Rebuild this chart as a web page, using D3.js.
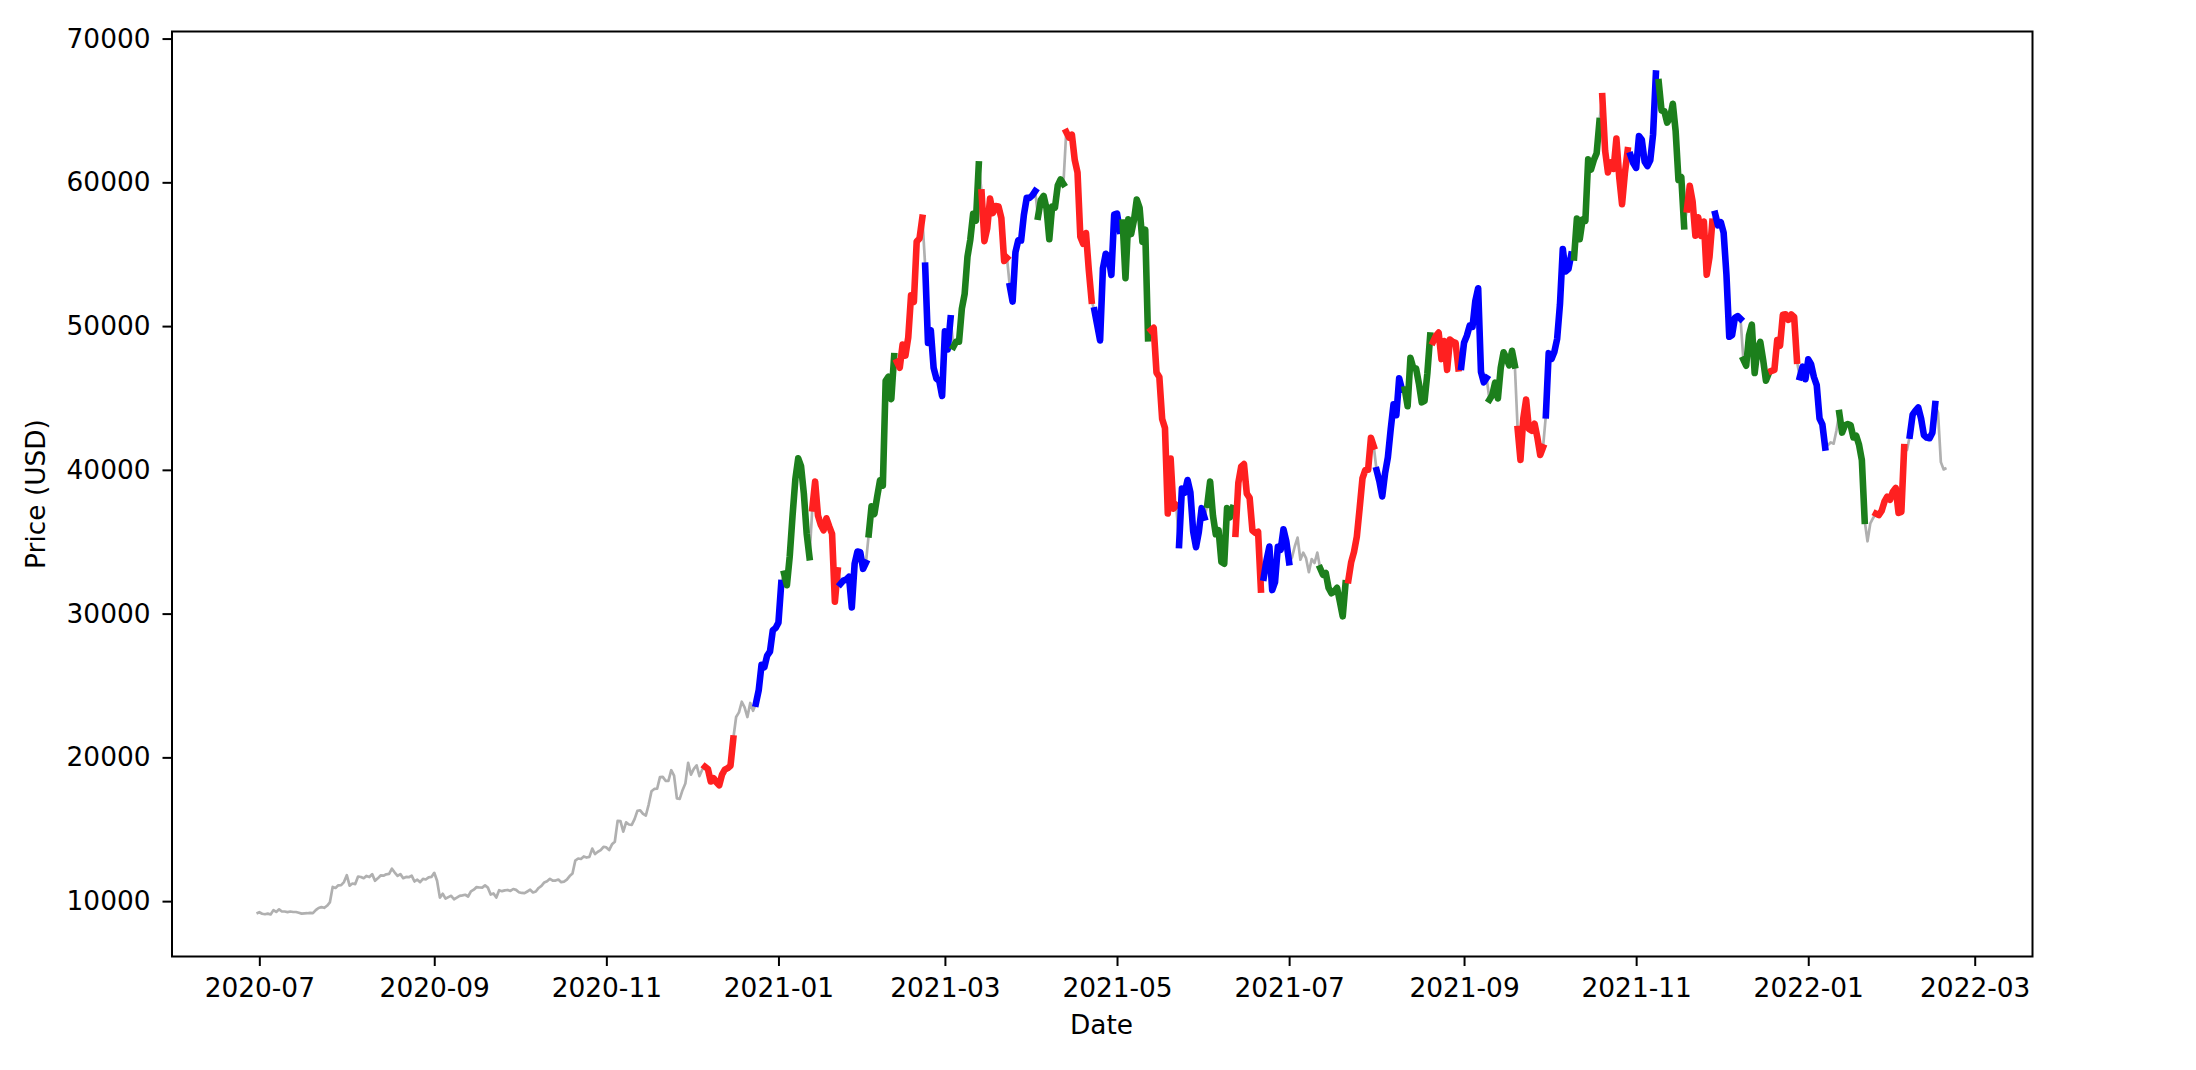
<!DOCTYPE html>
<html>
<head>
<meta charset="utf-8">
<script src="https://cdn.jsdelivr.net/npm/d3@7"></script>
<style>
  body { margin: 0; background: #ffffff; }
  svg { display: block; }
  text { font-family: "DejaVu Sans", sans-serif; }
</style>
</head>
<body>
<svg id="chart" width="2196" height="1070"></svg>
<script>
// ---- Daily close prices (USD) ----
const jun2020 = [9137];
const jul2020 = [9228, 9123, 9087, 9133, 9073, 9375, 9252, 9428, 9277, 9278, 9240, 9277, 9243, 9243, 9193, 9132, 9151, 9159, 9185, 9165, 9374, 9525, 9581, 9536, 9677, 9905, 10991, 10913, 11100, 11112, 11323];
const aug2020 = [11802, 11072, 11226, 11185, 11711, 11680, 11592, 11754, 11676, 11878, 11411, 11585, 11785, 11769, 11865, 11893, 12254, 11991, 11759, 11878, 11593, 11681, 11664, 11775, 11367, 11489, 11323, 11543, 11507, 11656, 11681];
const sep2020 = [11970, 11414, 10245, 10511, 10169, 10280, 10370, 10131, 10242, 10364, 10400, 10443, 10323, 10680, 10797, 10974, 10948, 10944, 11094, 10939, 10462, 10538, 10247, 10760, 10693, 10750, 10776, 10709, 10844, 10785];
const oct2020 = [10620, 10570, 10551, 10669, 10793, 10604, 10668, 10916, 11065, 11296, 11385, 11555, 11425, 11430, 11505, 11320, 11360, 11496, 11743, 11916, 12823, 12965, 12932, 13109, 13032, 13075, 13654, 13272, 13437, 13546, 13781];
const nov2020 = [13737, 13550, 13950, 14133, 15579, 15565, 14833, 15479, 15332, 15299, 15701, 16276, 16318, 16068, 15956, 16716, 17645, 17804, 17817, 18621, 18642, 18370, 18365, 19107, 18732, 17150, 17109, 17718, 18178, 19626];
const dec2020 = [18803, 19201, 19446, 18699, 19154, 19346, 19191, 18321, 18553, 18264, 18058, 18803, 19142, 19246, 19417, 21310, 22806, 23132, 23869, 23477, 22803, 23783, 23241, 23735, 24665, 26437, 26272, 27084, 27363, 28841, 29002];
const jan2021 = [29374, 32127, 32782, 31972, 33992, 36825, 39371, 40797, 40254, 38357, 35567, 33923, 37316, 39188, 36825, 36179, 35792, 36631, 36070, 35548, 30826, 33006, 32067, 32290, 32366, 32569, 30432, 33467, 34316, 34270, 33114];
const feb2021 = [33537, 35510, 37472, 36926, 38144, 39266, 38903, 46196, 46481, 44919, 47909, 47504, 47105, 48717, 47945, 49199, 52149, 51679, 55888, 56099, 57539, 54207, 48824, 49705, 47093, 46339, 46188, 45137];
const mar2021 = [49631, 48378, 50538, 48561, 48927, 48912, 51206, 52246, 54824, 56008, 57805, 57332, 61243, 59302, 55907, 56804, 58870, 57858, 58346, 58313, 57523, 54529, 54738, 52774, 51704, 55137, 55974, 55950, 57750, 58918, 58918];
const apr2021 = [59095, 59384, 57604, 58759, 59057, 58192, 56048, 58323, 58246, 59793, 60204, 59893, 63503, 63110, 63315, 61572, 60684, 56216, 55724, 56473, 53906, 51762, 51093, 50050, 49004, 54022, 55033, 54824, 53555, 57750];
const may2021 = [57828, 56632, 57200, 53333, 57424, 56397, 57357, 58804, 58232, 55860, 56705, 49150, 49716, 49880, 46761, 46457, 43538, 42909, 36964, 40784, 37304, 37536, 34771, 38705, 38403, 39295, 38436, 35698, 34617, 35678, 37333];
const jun2021 = [36685, 37575, 39188, 36825, 35520, 35797, 33590, 33472, 37345, 36702, 37334, 35553, 39097, 40218, 40406, 38347, 38053, 35787, 35616, 35698, 31676, 32505, 33723, 34663, 31637, 32186, 34650, 34434, 35867, 35041];
const jul2021 = [33572, 33897, 34668, 35287, 33746, 34235, 33855, 32877, 33798, 33520, 34240, 33155, 32702, 32822, 31780, 31421, 31534, 31796, 30817, 29807, 32110, 32314, 33582, 34292, 35350, 37337, 39407, 39995, 40008, 42236, 41626];
const aug2021 = [39974, 39201, 38152, 39747, 40869, 42816, 44555, 43798, 46365, 45585, 45593, 44428, 47793, 47096, 47047, 46004, 44695, 44801, 46717, 49339, 48905, 49321, 49546, 47706, 48960, 46942, 49058, 48902, 48830, 47054, 47166];
const sep2021 = [48848, 49327, 50026, 49944, 51753, 52633, 46811, 46091, 46392, 44883, 45201, 46063, 44963, 47092, 48176, 47783, 47268, 48278, 47261, 42843, 40694, 43574, 44895, 42840, 42716, 43208, 42236, 41035, 41564, 43791];
const oct2021 = [48116, 47712, 48200, 49113, 51514, 55362, 53805, 53967, 54968, 54772, 57485, 56041, 57401, 57321, 61594, 60888, 61553, 62026, 64262, 65993, 62210, 60693, 61393, 60931, 63040, 60364, 58482, 60622, 62228, 61888, 61319];
const nov2021 = [61004, 63227, 62970, 61453, 61126, 61528, 63327, 67567, 66971, 64996, 64950, 64155, 64470, 65466, 63557, 60162, 60368, 56943, 58120, 59760, 58681, 56292, 57570, 56280, 57274, 53570, 54815, 57248, 57807, 57006];
const dec2021 = [57229, 56509, 53598, 49254, 49369, 50582, 50700, 50505, 47672, 47244, 49363, 50098, 46737, 48379, 48896, 47665, 46203, 46708, 46881, 46951, 49035, 48633, 50784, 50822, 50429, 50809, 50640, 47588, 46444, 47178, 46306];
const jan2022 = [47686, 47346, 46459, 45898, 43569, 43160, 41558, 41734, 41911, 41821, 42736, 43949, 42592, 43100, 43177, 43114, 42250, 42375, 41745, 40681, 36458, 35031, 36276, 36654, 36954, 36853, 37138, 37784, 38138, 37917, 38483];
const feb2022 = [38744, 37003, 37074, 41572, 41383, 42380, 43840, 44118, 44339, 43565, 42407, 42244, 42197, 42586, 44575, 43961, 40538, 40030, 40122];

const blockStarts = ["2020-06-30", "2020-07-01", "2020-08-01", "2020-09-01", "2020-10-01", "2020-11-01", "2020-12-01",
  "2021-01-01", "2021-02-01", "2021-03-01", "2021-04-01", "2021-05-01", "2021-06-01", "2021-07-01", "2021-08-01",
  "2021-09-01", "2021-10-01", "2021-11-01", "2021-12-01", "2022-01-01", "2022-02-01"];
const blockValues = [jun2020, jul2020, aug2020, sep2020, oct2020, nov2020, dec2020, jan2021, feb2021, mar2021, apr2021,
  may2021, jun2021, jul2021, aug2021, sep2021, oct2021, nov2021, dec2021, jan2022, feb2022];

// ---- Highlighted windows (start, end, colour) ----
const segStart = ["2020-12-06", "2020-12-24", "2021-01-03", "2021-01-13", "2021-01-23", "2021-02-02", "2021-02-12", "2021-02-22",
  "2021-03-04", "2021-03-14", "2021-03-24", "2021-04-03", "2021-04-13", "2021-04-23", "2021-05-03", "2021-05-13",
  "2021-05-23", "2021-06-02", "2021-06-12", "2021-06-22", "2021-07-12", "2021-07-22", "2021-08-01", "2021-08-11",
  "2021-08-21", "2021-08-31", "2021-09-10", "2021-09-20", "2021-09-30", "2021-10-10", "2021-10-20", "2021-10-30",
  "2021-11-09", "2021-11-19", "2021-11-29", "2021-12-09", "2021-12-19", "2021-12-29", "2022-01-12", "2022-01-25", "2022-02-06"];
const segEnd = ["2020-12-16", "2021-01-02", "2021-01-12", "2021-01-22", "2021-02-01", "2021-02-11", "2021-02-21", "2021-03-03",
  "2021-03-13", "2021-03-23", "2021-04-02", "2021-04-12", "2021-04-22", "2021-05-02", "2021-05-12", "2021-05-22",
  "2021-06-01", "2021-06-11", "2021-06-21", "2021-07-01", "2021-07-21", "2021-07-31", "2021-08-10", "2021-08-20",
  "2021-08-30", "2021-09-09", "2021-09-19", "2021-09-29", "2021-10-09", "2021-10-19", "2021-10-29", "2021-11-08",
  "2021-11-18", "2021-11-28", "2021-12-08", "2021-12-18", "2021-12-28", "2022-01-07", "2022-01-21", "2022-02-04", "2022-02-15"];
const segColor = ["red", "blue", "green", "red", "blue", "green", "red", "blue",
  "green", "red", "blue", "green", "red", "blue", "green", "red",
  "blue", "green", "red", "blue", "green", "red", "blue", "green",
  "red", "blue", "green", "red", "blue", "green", "red", "blue",
  "green", "red", "blue", "green", "red", "blue", "green", "red", "blue"];

const xTickLabels = ["2020-07", "2020-09", "2020-11", "2021-01", "2021-03", "2021-05", "2021-07", "2021-09", "2021-11", "2022-01", "2022-03"];
const yTickValues = [10000, 20000, 30000, 40000, 50000, 60000, 70000];

// ---- Build series ----
const parseDay = d3.utcParse("%Y-%m-%d");
const parseMonth = d3.utcParse("%Y-%m");
const series = [];
blockStarts.forEach((s, bi) => {
  const t0 = parseDay(s);
  blockValues[bi].forEach((v, i) => series.push({ date: d3.utcDay.offset(t0, i), price: v }));
});

const palette = { red: "#ff2020", green: "#1c7f1c", blue: "#0000ff" };

// ---- Layout ----
const L = 172, R = 2031, T = 31.5, B = 956.5;
const svg = d3.select("#chart");

const tExt = d3.extent(series, d => d.date);
const span = tExt[1] - tExt[0];
const x = d3.scaleUtc()
  .domain([new Date(+tExt[0] - 0.05 * span), new Date(+tExt[1] + 0.05 * span)])
  .range([L, R]);

const pExt = d3.extent(series, d => d.price);
const pr = pExt[1] - pExt[0];
const y = d3.scaleLinear()
  .domain([pExt[0] - 0.05 * pr, pExt[1] + 0.05 * pr])
  .range([B, T]);

const line = d3.line().x(d => x(d.date)).y(d => y(d.price));

// base grey line
svg.append("path")
  .datum(series)
  .attr("fill", "none")
  .attr("stroke", "#b0b0b0")
  .attr("stroke-width", 2.7)
  .attr("stroke-linejoin", "round")
  .attr("d", line);

// coloured windows
segStart.forEach((s, i) => {
  const a = parseDay(s), b = parseDay(segEnd[i]);
  const part = series.filter(d => d.date >= a && d.date <= b);
  svg.append("path")
    .datum(part)
    .attr("fill", "none")
    .attr("stroke", palette[segColor[i]])
    .attr("stroke-width", 6.6)
    .attr("stroke-linejoin", "round")
    .attr("stroke-linecap", "square")
    .attr("d", line);
});

// axes
const fs = "26.4px";
const xAxis = d3.axisBottom(x)
  .tickValues(xTickLabels.map(parseMonth))
  .tickFormat(d3.utcFormat("%Y-%m"))
  .tickSize(9.5).tickPadding(12).tickSizeOuter(0);
const gx = svg.append("g").attr("transform", `translate(0,${B})`).call(xAxis);
gx.select(".domain").remove();
gx.selectAll("line").attr("stroke", "#000").attr("stroke-width", 2);
gx.selectAll("text").attr("font-size", fs).attr("fill", "#000").attr("font-family", "DejaVu Sans, sans-serif");

const yAxis = d3.axisLeft(y)
  .tickValues(yTickValues)
  .tickFormat(d3.format("d"))
  .tickSize(9.5).tickPadding(12).tickSizeOuter(0);
const gy = svg.append("g").attr("transform", `translate(${L},0)`).call(yAxis);
gy.select(".domain").remove();
gy.selectAll("line").attr("stroke", "#000").attr("stroke-width", 2);
gy.selectAll("text").attr("font-size", fs).attr("fill", "#000").attr("font-family", "DejaVu Sans, sans-serif");

// frame (spines)
svg.append("rect")
  .attr("x", L).attr("y", T)
  .attr("width", R - L + 1.5).attr("height", B - T)
  .attr("fill", "none").attr("stroke", "#000").attr("stroke-width", 2);

// axis titles
svg.append("text")
  .attr("x", (L + R) / 2).attr("y", 1034)
  .attr("text-anchor", "middle")
  .attr("font-size", fs).attr("fill", "#000")
  .text("Date");
svg.append("text")
  .attr("transform", `translate(45,${(T + B) / 2}) rotate(-90)`)
  .attr("text-anchor", "middle")
  .attr("font-size", fs).attr("fill", "#000")
  .text("Price (USD)");
</script>
</body>
</html>
